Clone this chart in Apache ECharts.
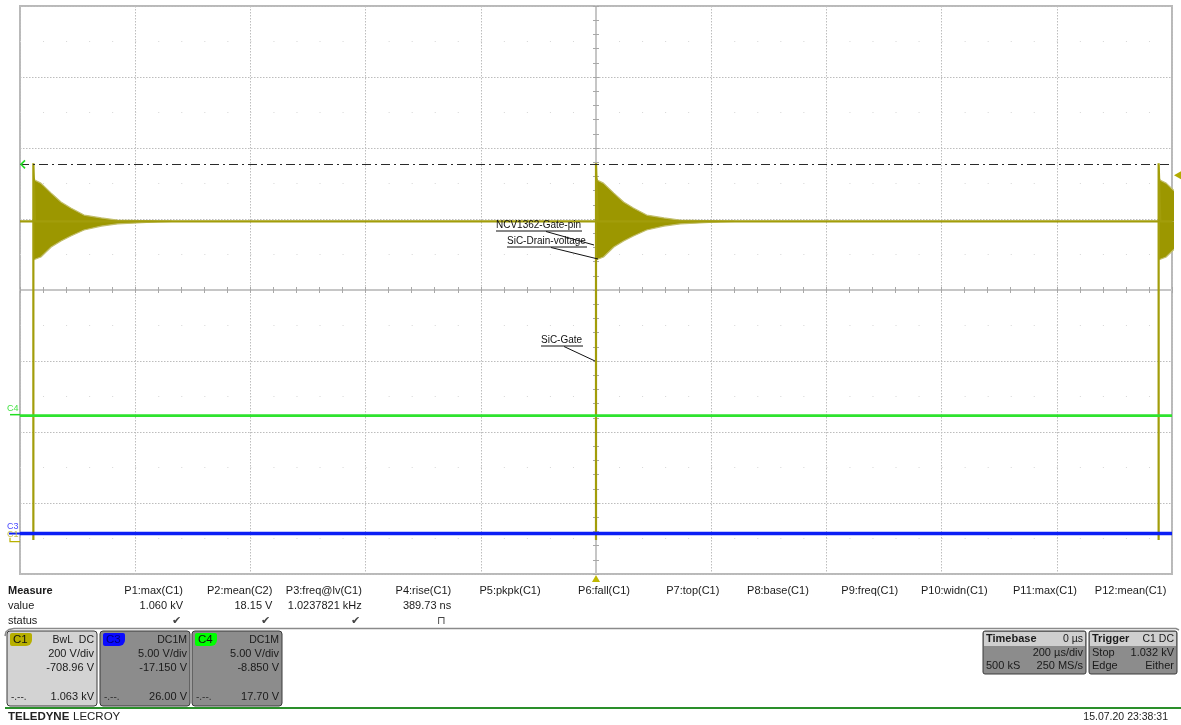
<!DOCTYPE html>
<html><head><meta charset="utf-8">
<script src="https://cdn.jsdelivr.net/npm/echarts@6/dist/echarts.min.js"></script>
<style>html,body{margin:0;padding:0;background:#fff;}#c{width:1181px;height:725px;}</style>
</head><body><div id="c"></div>
<script>
// ---------------- data ----------------
const TIME_AXIS_US = [-1000, 1000];            // 200 µs/div, 10 divisions
const TIME_DIV_US = 200;
const EDGE_TIMES_US = [-976.8, 0, 976.8];      // C1 switching edges (1.0237821 kHz)
const C1_BASELINE_V = 902;
const C1_SPIKE_V = [5, 1066];                  // low / high extreme at each edge
const RING_DT_US   = [0.8, 3, 13, 31, 48, 65, 88, 118, 146, 205, 240];
const RING_UPPER_V = [1024, 1018, 1010, 982, 957, 940, 920, 912, 906, 904, 902];
const RING_LOWER_V = [794, 797, 802, 830, 847, 861, 878, 889, 895, 900, 902];
const C3_TRACE = [[-1000, 0], [1000, 0]];
const C4_TRACE = [[-1000, 0], [1000, 0]];
const C1_CURSOR_V = 1063;
const TRIGGER_LEVEL_V = 1032;
const TRIGGER_TIME_US = 0;

const CH_NAMES = ['C1', 'C3', 'C4'];
const CH_SCALE = [200, 5, 5];                  // V/div
const CH_OFFSET = [-708.96, -17.150, -8.850];  // V
const CH_SCALE_LABEL = ['200 V/div', '5.00 V/div', '5.00 V/div'];
const CH_OFFSET_LABEL = ['-708.96 V', '-17.150 V', '-8.850 V'];
const CH_CURSOR_LABEL = ['1.063 kV', '26.00 V', '17.70 V'];
const CH_COUPLING = ['BwL  DC', 'DC1M', 'DC1M'];

const MEAS_NAMES = ['P1:max(C1)', 'P2:mean(C2)', 'P3:freq@lv(C1)', 'P4:rise(C1)', 'P5:pkpk(C1)', 'P6:fall(C1)',
  'P7:top(C1)', 'P8:base(C1)', 'P9:freq(C1)', 'P10:widn(C1)', 'P11:max(C1)', 'P12:mean(C1)'];
const MEAS_VALUES = ['1.060 kV', '18.15 V', '1.0237821 kHz', '389.73 ns', '', '', '', '', '', '', '', ''];
const MEAS_STATUS = ['✔', '✔', '✔', '⊓', '', '', '', '', '', '', '', ''];
const ANNOTATIONS = ['NCV1362-Gate-pin', 'SiC-Drain-voltage', 'SiC-Gate'];
const TIMEBASE = ['0 µs', '200 µs/div', '500 kS', '250 MS/s'];
const TRIGGER = ['C1 DC', 'Stop', '1.032 kV', 'Edge', 'Either'];
const TIMESTAMP = '15.07.20 23:38:31';

// ---------------- styling ----------------
const FONT = '"Liberation Sans", Arial, sans-serif';
const OLIVE = '#a29d0a', OLIVE_BAND = '#9c9700', OLIVE_LIGHT = '#c2be6c';
const GREEN = '#2ee32e', BLUE = '#0b1ef5';
const GRID = { left: 20, top: 6, width: 1152, height: 568 };
const DIV_Y = 4;

const chart = echarts.init(document.getElementById('c'), null, { renderer: 'canvas' });

function chAxis(i) {
  const c = -CH_OFFSET[i];
  return { type: 'value', min: c - DIV_Y * CH_SCALE[i], max: c + DIV_Y * CH_SCALE[i], show: false };
}
const centerLine = { show: true, onZero: true, onZeroAxisIndex: 0, lineStyle: { color: '#c6c6c6', width: 2 } };
const tickStyle = { color: '#a8a8a8', width: 1 };
function divX(pos, main) {
  return {
    type: 'value', min: TIME_AXIS_US[0], max: TIME_AXIS_US[1], interval: TIME_DIV_US, position: pos,
    axisLine: centerLine, axisLabel: { show: false },
    axisTick: { show: true, inside: true, length: 3, lineStyle: tickStyle },
    minorTick: { show: true, splitNumber: 5, length: 3, lineStyle: tickStyle },
    splitLine: { show: main, lineStyle: { color: '#bdbdbd', type: [1.5, 1.5], width: 1 } }
  };
}
function divY(pos, main) {
  return {
    type: 'value', min: -DIV_Y, max: DIV_Y, interval: 1, position: pos,
    axisLine: centerLine, axisLabel: { show: false },
    axisTick: { show: true, inside: true, length: 3, lineStyle: tickStyle },
    minorTick: { show: true, splitNumber: 5, length: 3, lineStyle: tickStyle },
    splitLine: { show: main, lineStyle: { color: '#bdbdbd', type: [1.5, 1.5], width: 1 } }
  };
}
const dotAxis = {
  type: 'value', min: -DIV_Y, max: DIV_Y, interval: 1, position: 'left',
  axisLine: { show: false }, axisTick: { show: false }, axisLabel: { show: false }, splitLine: { show: false },
  minorTick: { show: false, splitNumber: 2 },
  minorSplitLine: { show: true, lineStyle: { color: '#d6d6d6', type: [1, 22.04], width: 1.2 } }
};
const Y_C1 = 3, Y_C3 = 4, Y_C4 = 5;

// C1 main trace
const c1Line = [[TIME_AXIS_US[0], C1_BASELINE_V]];
EDGE_TIMES_US.forEach(te => {
  c1Line.push([te, C1_BASELINE_V], [te, C1_SPIKE_V[0]], [te, C1_SPIKE_V[1]],
    [te + RING_DT_US[0], RING_UPPER_V[0]], [te + RING_DT_US[1], C1_BASELINE_V]);
});
c1Line.push([TIME_AXIS_US[1], C1_BASELINE_V]);

const series = [];
EDGE_TIMES_US.forEach(te => {
  [RING_UPPER_V, RING_LOWER_V].forEach(env => {
    series.push({
      type: 'line', yAxisIndex: Y_C1, symbol: 'none', silent: true, z: 3,
      data: RING_DT_US.map((d, i) => [te + d, env[i]]),
      lineStyle: { color: OLIVE_LIGHT, width: 1.2 },
      areaStyle: { origin: C1_BASELINE_V, color: OLIVE_BAND, opacity: 1 }
    });
  });
});
series.push({
  type: 'line', name: 'C1', yAxisIndex: Y_C1, symbol: 'none', z: 4, data: c1Line,
  lineStyle: { color: OLIVE, width: 2.2 },
  markLine: {
    silent: true, symbol: ['none', 'none'], label: { show: false },
    lineStyle: { color: '#2a2a2a', type: [9, 4, 2, 4], width: 1 },
    data: [{ yAxis: C1_CURSOR_V }]
  }
});
series.push({ type: 'line', name: 'C4', yAxisIndex: Y_C4, symbol: 'none', z: 5, data: C4_TRACE,
  lineStyle: { color: GREEN, width: 2.6 } });
series.push({ type: 'line', name: 'C3', yAxisIndex: Y_C3, symbol: 'none', z: 5, data: C3_TRACE,
  lineStyle: { color: BLUE, width: 3.6 } });

chart.setOption({
  animation: false,
  backgroundColor: '#ffffff',
  grid: { left: GRID.left, top: GRID.top, width: GRID.width, height: GRID.height, show: true,
    borderColor: '#b9b9b9', borderWidth: 2, backgroundColor: 'transparent', containLabel: false },
  xAxis: [divX('bottom', true), divX('top', false)],
  yAxis: [divY('left', true), divY('right', false), dotAxis, chAxis(0), chAxis(1), chAxis(2)],
  series: series
});

// ---------------- decorations & instrument panel ----------------
const px = (axis, v) => chart.convertToPixel(axis, v);
const g = [];
function T(text, x, y, o) {
  o = o || {};
  g.push({ type: 'text', z: o.z || 50, silent: true, style: {
    text: text, x: x, y: y, fill: o.fill || '#1a1a1a',
    font: (o.bold ? 'bold ' : '') + (o.size || 11) + 'px ' + FONT,
    textAlign: o.align || 'left', textVerticalAlign: 'middle' } });
}
function L(x1, y1, x2, y2, stroke, w, z) {
  g.push({ type: 'line', z: z || 50, silent: true, shape: { x1, y1, x2, y2 }, style: { stroke: stroke, lineWidth: w || 1 } });
}
function R(x, y, w, h, fill, stroke, r, z) {
  g.push({ type: 'rect', z: z || 40, silent: true, shape: { x, y, width: w, height: h, r: r || 0 },
    style: { fill: fill, stroke: stroke || null, lineWidth: 1 } });
}

const xTrig = px({ xAxisIndex: 0 }, TRIGGER_TIME_US);
const yCursor = px({ yAxisIndex: Y_C1 }, C1_CURSOR_V);
const yTrig = px({ yAxisIndex: Y_C1 }, TRIGGER_LEVEL_V);
const gnd = [px({ yAxisIndex: Y_C1 }, 0), px({ yAxisIndex: Y_C3 }, 0), px({ yAxisIndex: Y_C4 }, 0)];
const gridR = GRID.left + GRID.width, gridB = GRID.top + GRID.height;

// cursor arrow (green) and trigger level / position markers
g.push({ type: 'polyline', z: 60, silent: true, shape: { points: [[25, yCursor - 4], [21, yCursor], [25, yCursor + 4]] },
  style: { stroke: '#22dd22', lineWidth: 1.6, fill: null } });
g.push({ type: 'polygon', z: 60, silent: true, shape: { points: [[gridR + 2, yTrig], [gridR + 9, yTrig - 4], [gridR + 9, yTrig + 4]] },
  style: { fill: '#b3ab00' } });
g.push({ type: 'polygon', z: 60, silent: true, shape: { points: [[xTrig, gridB + 1], [xTrig - 4, gridB + 8], [xTrig + 4, gridB + 8]] },
  style: { fill: '#c0b800' } });

// channel ground markers
T('C4', 7, gnd[2] - 7, { fill: '#44e244', size: 9 });
L(10, gnd[2] - 1, 20, gnd[2] - 1, '#22dd22', 1.5);
T('C3', 7, gnd[1] - 7, { fill: '#4a4aff', size: 9 });
L(9, gnd[1], 20, gnd[1], BLUE, 2);
T('C1', 7, gnd[0] - 7, { fill: '#c9c14a', size: 9 });
g.push({ type: 'polyline', z: 50, silent: true, shape: { points: [[10, gnd[0] - 4], [10, gnd[0]], [20, gnd[0]]] },
  style: { stroke: '#b8b000', lineWidth: 1.2, fill: null } });

// annotations
const ann = [
  { tx: xTrig - 100, ty: 225, w: 86, lx: xTrig - 50, ex: xTrig - 2, ey: 245 },
  { tx: xTrig - 89, ty: 241, w: 80, lx: xTrig - 45, ex: xTrig + 2, ey: 259 },
  { tx: xTrig - 55, ty: 340, w: 42, lx: xTrig - 32, ex: xTrig - 1, ey: 361 }
];
ann.forEach((a, i) => {
  T(ANNOTATIONS[i], a.tx, a.ty, { size: 10, fill: '#111', z: 70 });
  L(a.tx, a.ty + 6, a.tx + a.w, a.ty + 6, '#111', 1, 70);
  L(a.lx, a.ty + 6.5, a.ex, a.ey, '#111', 1, 70);
});

// measurement table
T('Measure', 8, 591, { bold: true });
T('value', 8, 606);
T('status', 8, 621);
MEAS_NAMES.forEach((n, i) => {
  const xr = 183 + i * 89.4;
  T(n, xr, 591, { align: 'right' });
  if (MEAS_VALUES[i]) T(MEAS_VALUES[i], xr, 606, { align: 'right' });
  if (MEAS_STATUS[i]) T(MEAS_STATUS[i], xr - (i === 3 ? 5 : 2), 621, { align: 'right', fill: '#444', size: 11 });
});
// separator with rounded corner
g.push({ type: 'polyline', z: 45, silent: true,
  shape: { points: [[5, 636], [6, 632], [9, 629.5], [14, 628.5], [1176, 628.5], [1179, 630]] },
  style: { stroke: '#8a8a8a', lineWidth: 1.5, fill: null } });

// channel boxes
const BOX_X = [7, 100, 192], TAB_COL = ['#b7af00', '#0a0aff', '#00ff00'], TAB_TXT = ['#111', '#00007a', '#111'];
CH_NAMES.forEach((n, i) => {
  const x = BOX_X[i], y = 631, w = 90, h = 75;
  R(x, y, w, h, i === 0 ? '#d3d3d3' : '#8c8c8c', '#3a3a3a', 3);
  R(x + 3, y + 2, 22, 13, TAB_COL[i], null, [2, 2, 6, 2], 41);
  T(n, x + 6, y + 9, { fill: TAB_TXT[i], size: 11.5 });
  T(CH_COUPLING[i], x + w - 3, y + 9, { align: 'right', size: 10.5 });
  T(CH_SCALE_LABEL[i], x + w - 3, y + 23, { align: 'right' });
  T(CH_OFFSET_LABEL[i], x + w - 3, y + 37, { align: 'right' });
  T('-.--.', x + 4, y + 66, { size: 10, fill: '#333' });
  T(CH_CURSOR_LABEL[i], x + w - 3, y + 66, { align: 'right' });
});

// timebase / trigger boxes
function infoBox(x, w, title, hdrR, r1, l2, r2, l1) {
  const y = 631;
  R(x, y, w, 43, '#8c8c8c', '#3a3a3a', 2);
  R(x + 1, y + 1, w - 2, 14, '#cfcfcf', null, 0, 41);
  T(title, x + 3, y + 8, { bold: true });
  T(hdrR, x + w - 3, y + 8, { align: 'right', size: 10.5 });
  if (l1) T(l1, x + 3, y + 22);
  T(r1, x + w - 3, y + 22, { align: 'right' });
  T(l2, x + 3, y + 35);
  T(r2, x + w - 3, y + 35, { align: 'right' });
}
infoBox(983, 103, 'Timebase', TIMEBASE[0], TIMEBASE[1], TIMEBASE[2], TIMEBASE[3]);
infoBox(1089, 88, 'Trigger', TRIGGER[0], TRIGGER[2], TRIGGER[3], TRIGGER[4], TRIGGER[1]);

// footer
L(5, 708, 1181, 708, '#2a8f2a', 2);
T('TELEDYNE', 8, 717, { bold: true, size: 11.5, fill: '#222' });
T('LECROY', 73, 717, { size: 11.5, fill: '#222' });
T(TIMESTAMP, 1168, 717, { align: 'right', size: 10.5, fill: '#222' });

chart.setOption({ graphic: { elements: g } });
</script></body></html>
